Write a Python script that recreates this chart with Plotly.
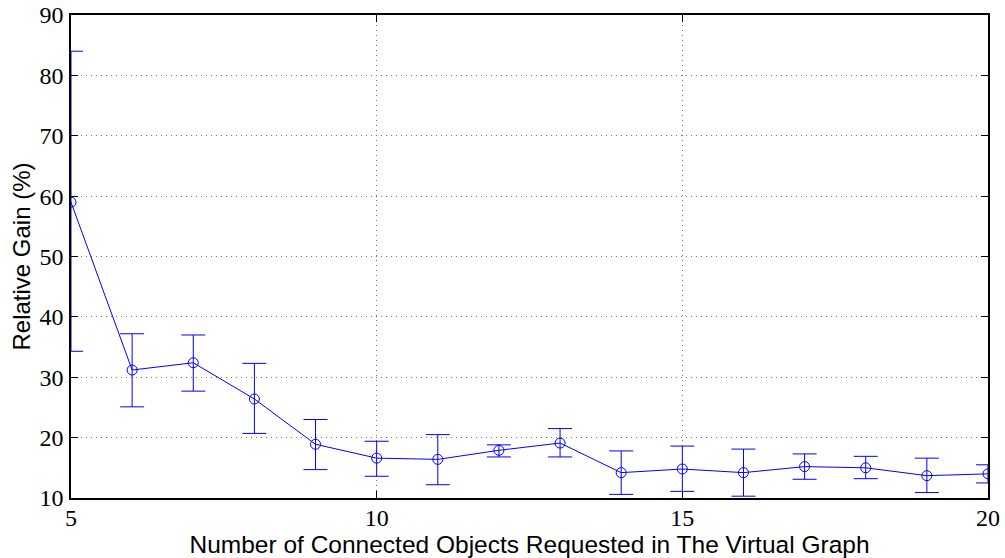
import plotly.graph_objects as go

# number of connected objects requested
objects = [5, 6, 7, 8, 9, 10, 11, 12, 13, 14, 15, 16, 17, 18, 19, 20]
# mean relative gain (%)
gain = [59.0, 31.2, 32.4, 26.4, 18.9, 16.6, 16.4, 17.9, 19.1, 14.2, 14.8, 14.2, 15.2, 15.0, 13.7, 14.0]
# upper and lower ends of the error bars
upper = [84.0, 37.2, 37.0, 32.3, 23.0, 19.4, 20.5, 18.8, 21.5, 17.8, 18.6, 18.1, 17.3, 16.9, 16.6, 15.5]
lower = [34.3, 25.1, 27.7, 20.7, 14.7, 13.6, 12.2, 16.8, 16.8, 10.6, 11.1, 10.3, 13.1, 13.2, 10.9, 12.5]

err_plus = [u - g for u, g in zip(upper, gain)]
err_minus = [g - l for g, l in zip(gain, lower)]

fig = go.Figure()
fig.add_trace(go.Scatter(
    x=objects, y=gain, mode="lines+markers",
    line=dict(color="#0000ff", width=1),
    marker=dict(symbol="circle-open", size=10, color="#0000ff", line=dict(width=1)),
    error_y=dict(type="data", symmetric=False, array=err_plus, arrayminus=err_minus,
                 color="#0000ff", thickness=1, width=12),
    cliponaxis=True,
    showlegend=False,
))

axis_common = dict(
    showline=True, linecolor="black", linewidth=1.5, mirror="ticks",
    ticks="inside", ticklen=7, tickcolor="black",
    showgrid=True, gridcolor="#777777", griddash="1px,4px", gridwidth=1,
    zeroline=False, automargin=False, ticklabeloverflow="allow",
    tickfont=dict(family="Liberation Serif", size=24, color="black"),
)

fig.update_layout(
    width=1005, height=558,
    margin=dict(l=71, r=17, t=15, b=60),
    plot_bgcolor="white", paper_bgcolor="white",
    xaxis=dict(range=[5, 20], tickvals=[5, 10, 15, 20], ticklabelstandoff=-3,
               title=dict(text="Number of Connected Objects Requested in The Virtual Graph",
                          font=dict(family="Liberation Sans", size=24.5, color="black"),
                          standoff=0),
               **axis_common),
    yaxis=dict(range=[10, 90], tickvals=[10, 20, 30, 40, 50, 60, 70, 80, 90], ticklabelstandoff=1,
               title=dict(text="Relative Gain (%)",
                          font=dict(family="Liberation Sans", size=24, color="black"),
                          standoff=2),
               **axis_common),
)

# drop the default body margin so the figure fills the window exactly
fig.write_html("out.html", config={"displayModeBar": False},
               post_script="document.body.style.margin='0';")
